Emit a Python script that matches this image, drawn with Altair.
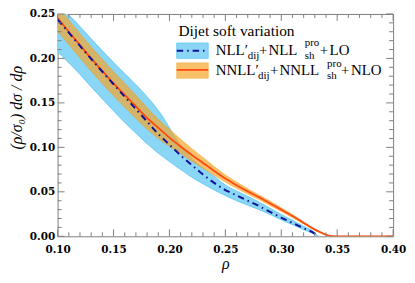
import altair as alt
import pandas as pd

# ---------------- data ----------------
rho_nll = [0.10, 0.11, 0.12, 0.13, 0.14, 0.15, 0.16, 0.17, 0.18, 0.19, 0.195, 0.20, 0.205, 0.21,
           0.22, 0.23, 0.24, 0.25, 0.26, 0.27, 0.28, 0.29, 0.30, 0.31, 0.32, 0.33, 0.333]
nll_central = [0.2436, 0.229, 0.214, 0.1995, 0.185, 0.171, 0.157, 0.143, 0.129, 0.115, 0.109, 0.103,
               0.097, 0.091, 0.080, 0.0695, 0.060, 0.052, 0.046, 0.040, 0.034, 0.0275, 0.021, 0.015,
               0.009, 0.003, 0.0]
nll_low = [0.2075, 0.195, 0.182, 0.168, 0.1545, 0.141, 0.128, 0.116, 0.104, 0.0935, 0.0888, 0.084,
           0.0795, 0.075, 0.0665, 0.059, 0.052, 0.0458, 0.040, 0.035, 0.030, 0.0245, 0.0185, 0.013,
           0.0075, 0.002, 0.0]
nll_high = [0.262, 0.249, 0.236, 0.222, 0.2085, 0.1955, 0.183, 0.1705, 0.157, 0.1415, 0.1325, 0.122,
            0.1115, 0.1025, 0.0875, 0.0765, 0.0675, 0.0575, 0.051, 0.045, 0.0385, 0.0315, 0.0245, 0.018,
            0.0112, 0.004, 0.0]

rho_nnll = [0.10, 0.11, 0.12, 0.13, 0.14, 0.15, 0.16, 0.17, 0.18, 0.19, 0.20, 0.21,
            0.22, 0.23, 0.24, 0.25, 0.26, 0.27, 0.28, 0.29, 0.30, 0.31, 0.32, 0.33,
            0.335, 0.34, 0.345, 0.35, 0.40]
nnll_central = [0.2455, 0.230, 0.215, 0.200, 0.186, 0.172, 0.159, 0.146, 0.133, 0.122, 0.111, 0.101,
                0.0915, 0.0825, 0.0735, 0.065, 0.0575, 0.0505, 0.044, 0.037, 0.030, 0.0228, 0.015,
                0.0075, 0.0045, 0.0017, 0.0003, 0.0, 0.0]
nnll_low = [0.2305, 0.2155, 0.2005, 0.1855, 0.1715, 0.158, 0.145, 0.1325, 0.1205, 0.110, 0.101, 0.093,
            0.0845, 0.0765, 0.0685, 0.061, 0.054, 0.0475, 0.0415, 0.0347, 0.028, 0.021, 0.0138, 0.0068,
            0.0038, 0.0012, 0.0001, 0.0, 0.0]
nnll_high = [0.259, 0.243, 0.228, 0.213, 0.199, 0.185, 0.172, 0.1585, 0.1445, 0.1315, 0.1205, 0.109,
             0.0985, 0.0885, 0.0785, 0.069, 0.061, 0.0535, 0.0465, 0.0395, 0.032, 0.0245, 0.0162, 0.0082,
             0.0052, 0.0022, 0.0005, 0.0, 0.0]

x_major = [0.10, 0.15, 0.20, 0.25, 0.30, 0.35, 0.40]
x_minor = [0.11, 0.12, 0.13, 0.14, 0.16, 0.17, 0.18, 0.19, 0.21, 0.22, 0.23, 0.24,
           0.26, 0.27, 0.28, 0.29, 0.31, 0.32, 0.33, 0.34, 0.36, 0.37, 0.38, 0.39]
y_major = [0.00, 0.05, 0.10, 0.15, 0.20, 0.25]
y_minor = [0.01, 0.02, 0.03, 0.04, 0.06, 0.07, 0.08, 0.09, 0.11, 0.12, 0.13, 0.14,
           0.16, 0.17, 0.18, 0.19, 0.21, 0.22, 0.23, 0.24]

legend_title = "Dijet soft variation"
label1 = ["NLL\u2032", "dij", "+", "NLL", "pro", "sh", "+", "LO"]
label2 = ["NNLL\u2032", "dij", "+", "NNLL", "pro", "sh", "+", "NLO"]
x_title = "\u03c1"
y_title = "(\u03c1/\u03c3\u2080) d\u03c3 / d\u03c1"

# ---------------- styling ----------------
W, H = 338, 224
FRAME = "#808080"
BLUE_FILL = "#8bd6f7"
BLUE_EDGE = "#5bc6f2"
BLUE_LINE = "#10109a"
ORANGE_FILL = "#f4a62a"
ORANGE_EDGE = "#f09a10"
ORANGE_LINE = "#ff4a10"
SERIF = "Liberation Serif"

df_nll = pd.DataFrame({"rho": rho_nll, "c": nll_central, "lo": nll_low, "hi": nll_high})
df_nnll = pd.DataFrame({"rho": rho_nnll, "c": nnll_central, "lo": nnll_low, "hi": nnll_high})
one = pd.DataFrame({"a": [0]})

xscale = alt.Scale(domain=[0.10, 0.40], nice=False, zero=False)
yscale = alt.Scale(domain=[0.0, 0.25], nice=False, zero=False)

xaxis = alt.Axis(values=x_major, format=".2f", title=x_title, domain=False, ticks=False, grid=False,
                 labelFont="DejaVu Serif", labelFontWeight="bold", labelFontSize=10.5,
                 labelColor="black", labelPadding=8, labelFlush=False, labelOverlap=False,
                 titleFont=SERIF, titleFontStyle="italic", titleFontWeight="normal",
                 titleFontSize=16, titleColor="black", titleY=27, titleBaseline="middle")
yaxis = alt.Axis(values=y_major, format=".2f", title=y_title, domain=False, ticks=False, grid=False,
                 labelFont="DejaVu Serif", labelFontWeight="bold", labelFontSize=10.5,
                 labelColor="black", labelPadding=3, labelFlush=False, labelOverlap=False,
                 titleFont=SERIF, titleFontStyle="italic", titleFontWeight="normal",
                 titleFontSize=16, titleColor="black", titleX=-41, titleY=94,
                 titleAngle=270, titleAlign="center", titleBaseline="middle")


def X(field):
    return alt.X(field, scale=xscale, axis=xaxis, title=x_title)


def Y(field):
    return alt.Y(field, scale=yscale, axis=yaxis, title=y_title)


band_nll = alt.Chart(df_nll).mark_area(
    color=BLUE_FILL, stroke=BLUE_EDGE, strokeWidth=0.8, clip=True, interpolate="monotone"
).encode(x=X("rho:Q"), y=Y("lo:Q"), y2="hi:Q")
band_nnll = alt.Chart(df_nnll).mark_area(
    color=ORANGE_FILL, opacity=0.7, stroke=ORANGE_EDGE, strokeWidth=0.8, clip=True,
    interpolate="monotone"
).encode(x=X("rho:Q"), y=Y("lo:Q"), y2="hi:Q")
line_nnll = alt.Chart(df_nnll).mark_line(
    color=ORANGE_LINE, strokeWidth=1.8, clip=True, interpolate="monotone"
).encode(x=X("rho:Q"), y=Y("c:Q"))
line_nll = alt.Chart(df_nll).mark_line(
    color=BLUE_LINE, strokeWidth=2, clip=True, interpolate="monotone",
    strokeDash=[6.5, 4, 1.5, 4]
).encode(x=X("rho:Q"), y=Y("c:Q"))


# ---------------- inward ticks ----------------
def yticks(vals, length):
    d = pd.DataFrame({"v": vals})
    left = alt.Chart(d).mark_rule(color=FRAME, strokeWidth=1).encode(
        y=Y("v:Q"), x=alt.value(0), x2=alt.value(length))
    right = alt.Chart(d).mark_rule(color=FRAME, strokeWidth=1).encode(
        y=Y("v:Q"), x=alt.value(W - length), x2=alt.value(W))
    return [left, right]


def xticks(vals, length):
    d = pd.DataFrame({"v": vals})
    bottom = alt.Chart(d).mark_rule(color=FRAME, strokeWidth=1).encode(
        x=X("v:Q"), y=alt.value(H), y2=alt.value(H - length))
    top = alt.Chart(d).mark_rule(color=FRAME, strokeWidth=1).encode(
        x=X("v:Q"), y=alt.value(0), y2=alt.value(length))
    return [bottom, top]


ticks = yticks(y_major, 7) + yticks(y_minor, 4) + xticks(x_major, 7) + xticks(x_minor, 4)


# ---------------- legend ----------------
def txt(s, x, y, size=15):
    return alt.Chart(one).mark_text(
        text=s, align="left", baseline="alphabetic", font=SERIF, fontSize=size, color="black"
    ).encode(x=alt.value(x), y=alt.value(y))


def patch(y0, y1, fill, edge, op):
    return alt.Chart(one).mark_rect(fill=fill, stroke=edge, strokeWidth=0.8, opacity=op).encode(
        x=alt.value(120), x2=alt.value(151.7), y=alt.value(y0), y2=alt.value(y1))


dy = -2.3
leg = [
    txt(legend_title, 121.7, 24.3 + dy, 15.5),
    patch(31.6 + dy, 47 + dy, BLUE_FILL, BLUE_EDGE, 1.0),
    alt.Chart(one).mark_rule(color=BLUE_LINE, strokeWidth=2, strokeDash=[6.5, 4, 1.5, 4]).encode(
        x=alt.value(120), x2=alt.value(151.7), y=alt.value(39.3 + dy)),
    patch(51.6 + dy, 67 + dy, ORANGE_FILL, ORANGE_EDGE, 0.7),
    alt.Chart(one).mark_rule(color=ORANGE_LINE, strokeWidth=1.8).encode(
        x=alt.value(120), x2=alt.value(151.7), y=alt.value(58.6 + dy)),
    # label 1
    txt(label1[0], 159.3, 43.6 + dy), txt(label1[1], 191.5, 48 + dy, 11), txt(label1[2], 203, 43.6 + dy),
    txt(label1[3], 212.5, 43.6 + dy), txt(label1[4], 249, 35 + dy, 11), txt(label1[5], 249, 48 + dy, 11),
    txt(label1[6], 264, 43.6 + dy), txt(label1[7], 274, 43.6 + dy),
    # label 2
    txt(label2[0], 159.3, 63.6 + dy), txt(label2[1], 202, 67.5 + dy, 11), txt(label2[2], 214, 63.6 + dy),
    txt(label2[3], 223.5, 63.6 + dy), txt(label2[4], 271.5, 55.5 + dy, 11), txt(label2[5], 271.5, 67.5 + dy, 11),
    txt(label2[6], 285.5, 63.6 + dy), txt(label2[7], 295.5, 63.6 + dy),
]

chart = alt.layer(band_nll, band_nnll, line_nnll, line_nll, *ticks, *leg).properties(
    width=W, height=H,
    autosize=alt.AutoSizeParams(type="none"),
    padding={"left": 50, "top": 5, "right": 14, "bottom": 38},
).configure_view(stroke=FRAME, strokeWidth=1)

chart.save("out.html", embed_options={"renderer": "svg", "actions": False})
